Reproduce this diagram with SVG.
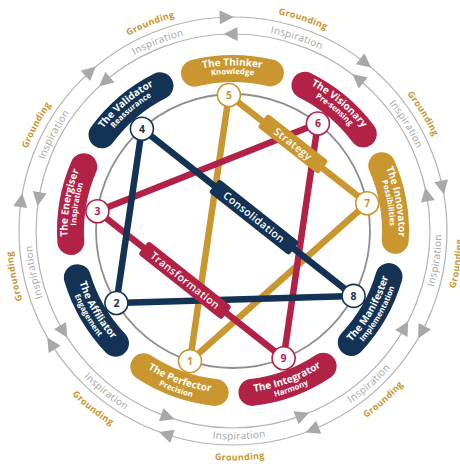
<svg xmlns="http://www.w3.org/2000/svg" width="460" height="464" viewBox="0 0 460 464">
<style>
text{font-family:"Open Sans","Liberation Sans",sans-serif}
.ring{fill:none;stroke:#b3b3b3;stroke-width:1.2}
.arr{fill:#a8a8a8}
.insp{font-size:10px;fill:#a3a3a3;letter-spacing:0.3px;text-anchor:middle}
.grnd{font-size:9px;font-weight:700;fill:#c8952f;letter-spacing:0.3px;text-anchor:middle}
.pill{fill:none;stroke-width:27;stroke-linecap:round}
.pt{font-size:10px;font-weight:700;fill:#fff;text-anchor:middle}
.ps{font-size:7.8px;font-weight:700;fill:#fff;text-anchor:middle}
.sg{stroke:#c9962f}.sc{stroke:#b22246}.sn{stroke:#143354}
.fg{fill:#c9962f}.fc{fill:#b22246}.fn{fill:#143354}
.ln{stroke-width:6.5;fill:none}
.node{fill:#fff;stroke-width:1.6}
.num{font-size:10.5px;font-weight:700;text-anchor:middle}
.lbl{font-size:10.5px;font-weight:600;fill:#fff;text-anchor:middle;letter-spacing:0.4px}
</style>
<defs>
<path id="capT" d="M195.07,72.98 A162.5,162.5 0 0 1 270.93,72.98"/>
<path id="capB" d="M195.07,389.02 A162.5,162.5 0 0 0 270.93,389.02"/>
<path id="tT" d="M89.67,148.25 A165.5,165.5 0 0 1 376.33,148.25"/>
<path id="sT" d="M97.03,152.5 A157,157 0 0 1 368.97,152.5"/>
<path id="tB" d="M92.70,312 A162,162 0 0 0 373.30,312"/>
<path id="sB" d="M84.91,316.5 A171,171 0 0 0 381.09,316.5"/>
<path id="iT" d="M58.5,130.25 A201.5,201.5 0 0 1 407.5,130.25"/>
<path id="iB" d="M52.44,335.25 A208.5,208.5 0 0 0 413.56,335.25"/>
<path id="gT" d="M41.18,120.25 A221.5,221.5 0 0 1 424.82,120.25"/>
<path id="gB" d="M34.25,345.75 A229.5,229.5 0 0 0 431.75,345.75"/>
<path id="aO" class="arr" d="M240,17 L226,10 L226,24Z"/>
<path id="aI" class="arr" d="M226,34 L240,27 L240,41Z"/>
</defs>

<g id="rings">
<circle class="ring" cx="233" cy="231" r="214"/>
<circle class="ring" cx="233" cy="231" r="197"/>
<use href="#aO" transform="rotate(-1.7,233,231)"/>
<use href="#aO" transform="rotate(38.3,233,231)"/>
<use href="#aO" transform="rotate(78.3,233,231)"/>
<use href="#aO" transform="rotate(118.3,233,231)"/>
<use href="#aO" transform="rotate(158.3,233,231)"/>
<use href="#aO" transform="rotate(198.3,233,231)"/>
<use href="#aO" transform="rotate(238.3,233,231)"/>
<use href="#aO" transform="rotate(-81.7,233,231)"/>
<use href="#aO" transform="rotate(-41.7,233,231)"/>
<use href="#aI" transform="rotate(-0.7,233,231)"/>
<use href="#aI" transform="rotate(39.3,233,231)"/>
<use href="#aI" transform="rotate(79.3,233,231)"/>
<use href="#aI" transform="rotate(119.3,233,231)"/>
<use href="#aI" transform="rotate(159.3,233,231)"/>
<use href="#aI" transform="rotate(199.3,233,231)"/>
<use href="#aI" transform="rotate(239.3,233,231)"/>
<use href="#aI" transform="rotate(-80.7,233,231)"/>
<use href="#aI" transform="rotate(-40.7,233,231)"/>
</g>

<g id="ring-labels">
<g transform="rotate(-21.7,233,231)"><text class="insp"><textPath href="#iT" startOffset="50%">Inspiration</textPath></text><text class="grnd"><textPath href="#gT" startOffset="50%">Grounding</textPath></text></g>
<g transform="rotate(18.3,233,231)"><text class="insp"><textPath href="#iT" startOffset="50%">Inspiration</textPath></text><text class="grnd"><textPath href="#gT" startOffset="50%">Grounding</textPath></text></g>
<g transform="rotate(58.3,233,231)"><text class="insp"><textPath href="#iT" startOffset="50%">Inspiration</textPath></text><text class="grnd"><textPath href="#gT" startOffset="50%">Grounding</textPath></text></g>
<g transform="rotate(-101.7,233,231)"><text class="insp"><textPath href="#iT" startOffset="50%">Inspiration</textPath></text><text class="grnd"><textPath href="#gT" startOffset="50%">Grounding</textPath></text></g>
<g transform="rotate(-61.7,233,231)"><text class="insp"><textPath href="#iT" startOffset="50%">Inspiration</textPath></text><text class="grnd"><textPath href="#gT" startOffset="50%">Grounding</textPath></text></g>
<g transform="rotate(-81.7,233,231)"><text class="insp"><textPath href="#iB" startOffset="50%">Inspiration</textPath></text><text class="grnd"><textPath href="#gB" startOffset="50%">Grounding</textPath></text></g>
<g transform="rotate(-41.7,233,231)"><text class="insp"><textPath href="#iB" startOffset="50%">Inspiration</textPath></text><text class="grnd"><textPath href="#gB" startOffset="50%">Grounding</textPath></text></g>
<g transform="rotate(-1.7,233,231)"><text class="insp"><textPath href="#iB" startOffset="50%">Inspiration</textPath></text><text class="grnd"><textPath href="#gB" startOffset="50%">Grounding</textPath></text></g>
<g transform="rotate(38.3,233,231)"><text class="insp"><textPath href="#iB" startOffset="50%">Inspiration</textPath></text><text class="grnd"><textPath href="#gB" startOffset="50%">Grounding</textPath></text></g>
</g>

<g id="role-thinker" transform="rotate(-0.2,233,231)"><use href="#capT" class="pill sg"/><text class="pt"><textPath href="#tT" startOffset="50%">The Thinker</textPath></text><text class="ps"><textPath href="#sT" startOffset="50%">Knowledge</textPath></text></g>
<g id="role-visionary" transform="rotate(39.8,233,231)"><use href="#capT" class="pill sc"/><text class="pt"><textPath href="#tT" startOffset="50%">The Visionary</textPath></text><text class="ps"><textPath href="#sT" startOffset="50%">Pre-sensing</textPath></text></g>
<g id="role-innovator" transform="rotate(79.8,233,231)"><use href="#capT" class="pill sg"/><text class="pt"><textPath href="#tT" startOffset="50%">The Innovator</textPath></text><text class="ps"><textPath href="#sT" startOffset="50%">Possibilities</textPath></text></g>
<g id="role-manifester" transform="rotate(-60.2,233,231)"><use href="#capB" class="pill sn"/><text class="pt"><textPath href="#tB" startOffset="50%">The Manifester</textPath></text><text class="ps"><textPath href="#sB" startOffset="50%">Implementation</textPath></text></g>
<g id="role-integrator" transform="rotate(-20.2,233,231)"><use href="#capB" class="pill sc"/><text class="pt"><textPath href="#tB" startOffset="50%">The Integrator</textPath></text><text class="ps"><textPath href="#sB" startOffset="50%">Harmony</textPath></text></g>
<g id="role-perfector" transform="rotate(19.8,233,231)"><use href="#capB" class="pill sg"/><text class="pt"><textPath href="#tB" startOffset="50%">The Perfector</textPath></text><text class="ps"><textPath href="#sB" startOffset="50%">Precision</textPath></text></g>
<g id="role-affiliator" transform="rotate(59.8,233,231)"><use href="#capB" class="pill sn"/><text class="pt"><textPath href="#tB" startOffset="50%">The Affiliator</textPath></text><text class="ps"><textPath href="#sB" startOffset="50%">Engagement</textPath></text></g>
<g id="role-energiser" transform="rotate(-80.2,233,231)"><use href="#capT" class="pill sc"/><text class="pt"><textPath href="#tT" startOffset="50%">The Energiser</textPath></text><text class="ps"><textPath href="#sT" startOffset="50%">Inspiration</textPath></text></g>
<g id="role-validator" transform="rotate(-40.2,233,231)"><use href="#capT" class="pill sn"/><text class="pt"><textPath href="#tT" startOffset="50%">The Validator</textPath></text><text class="ps"><textPath href="#sT" startOffset="50%">Reassurance</textPath></text></g>

<circle id="inner-circle" cx="233" cy="231" r="137" fill="none" stroke="#8e8e8e" stroke-width="1.8"/>

<g id="connectors">
<line class="ln sg" x1="228.9" y1="95" x2="190" y2="361.1"/>
<line class="ln sg" x1="228.9" y1="95" x2="367.2" y2="203.2"/>
<line class="ln sg" x1="367.2" y1="203.2" x2="190" y2="361.1"/>
<line class="ln sc" x1="97.4" y1="211.2" x2="317.9" y2="123.5"/>
<line class="ln sc" x1="317.9" y1="123.5" x2="283.6" y2="358.3"/>
<line class="ln sc" x1="283.6" y1="358.3" x2="97.4" y2="211.2"/>
<line class="ln sn" x1="141.9" y1="128.7" x2="116.4" y2="303"/>
<line class="ln sn" x1="116.4" y1="303" x2="353.6" y2="295.9"/>
<line class="ln sn" x1="353.6" y1="295.9" x2="141.9" y2="128.7"/>
<g transform="translate(293,144) rotate(38)"><rect class="fg" x="-38.5" y="-8.5" width="77" height="17" rx="3"/><text class="lbl" y="3.7">Strategy</text></g>
<g transform="translate(254,217.2) rotate(38.3)"><rect class="fn" x="-51" y="-8.5" width="102" height="17" rx="3"/><text class="lbl" y="3.7">Consolidation</text></g>
<g transform="translate(185,280.4) rotate(38.3)"><rect class="fc" x="-53" y="-8.5" width="106" height="17" rx="3"/><text class="lbl" y="3.7">Transformation</text></g>
</g>

<g id="node-1"><circle class="node sg" cx="190" cy="361.1" r="11.5"/><text class="num fg" x="190" y="364.9">1</text></g>
<g id="node-2"><circle class="node sn" cx="116.4" cy="303" r="11.5"/><text class="num fn" x="116.4" y="306.8">2</text></g>
<g id="node-3"><circle class="node sc" cx="97.4" cy="211.2" r="11.5"/><text class="num fc" x="97.4" y="215">3</text></g>
<g id="node-4"><circle class="node sn" cx="141.9" cy="128.7" r="11.5"/><text class="num fn" x="141.9" y="132.5">4</text></g>
<g id="node-5"><circle class="node sg" cx="228.9" cy="95" r="11.5"/><text class="num fg" x="228.9" y="98.8">5</text></g>
<g id="node-6"><circle class="node sc" cx="317.9" cy="123.5" r="11.5"/><text class="num fc" x="317.9" y="127.3">6</text></g>
<g id="node-7"><circle class="node sg" cx="367.2" cy="203.2" r="11.5"/><text class="num fg" x="367.2" y="207">7</text></g>
<g id="node-8"><circle class="node sn" cx="353.6" cy="295.9" r="11.5"/><text class="num fn" x="353.6" y="299.7">8</text></g>
<g id="node-9"><circle class="node sc" cx="283.6" cy="358.3" r="11.5"/><text class="num fc" x="283.6" y="362.1">9</text></g>
</svg>
